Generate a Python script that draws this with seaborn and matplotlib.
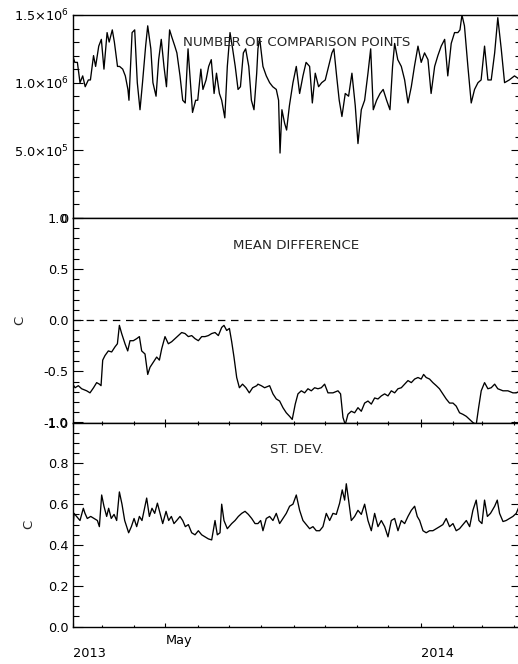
import numpy as np
import pandas as pd
import matplotlib
matplotlib.use("Agg")
import matplotlib.pyplot as plt
import matplotlib.dates as mdates
import seaborn as sns
from matplotlib.ticker import FixedLocator, MultipleLocator, FixedFormatter

# ---------------- data ----------------
start_date = "2013-02-01"
end_day = 429.8  # days after start where the x axis ends

# number of comparison points (millions), day offsets from start_date
npts_days = [0, 2, 4.5, 7, 9.6, 12, 15, 17, 20, 22, 25, 27.5, 30, 33, 35, 38, 40, 43, 45, 48,
             50.5, 53, 54, 57, 59.5, 62, 64.6, 67, 70, 72, 75, 77, 80, 82.5, 85, 87.6, 90, 93,
             95, 98, 100, 103, 105.6, 108, 110.7, 113, 115, 118, 120, 123, 125, 128, 130.5,
             133, 135.7, 138, 140.8, 143, 146, 148.4, 151, 153.5, 156, 158.7, 161, 163.8, 166,
             169, 171.5, 174, 176.6, 177.8, 179.4, 182.6, 185.8, 189, 192, 195.4, 197.6, 199,
             200.8, 203.4, 205.3, 208, 211.4, 214.6, 217.8, 221, 224, 227.4, 230, 232.8, 236,
             239, 242.4, 245.6, 248.8, 250.7, 253.3, 255.8, 258.4, 261.6, 264.8, 268, 271.2,
             273.8, 277, 280.2, 283.4, 286, 288.5, 291.7, 295, 298, 301.3, 304.5, 307, 309,
             312, 315.4, 318.6, 321.8, 325, 328, 331.4, 334.5, 337.7, 341, 344, 347.4, 350.5,
             353.7, 357, 360, 363.3, 366.5, 369.7, 371.7, 373.6, 376, 379.3, 382.5, 385.7,
             389, 392, 395.3, 398.5, 401.7, 405, 408, 411.3, 414.5, 419, 424, 429.8]
npts_millions = [1.20, 1.15, 1.15, 1.00, 1.05, 0.97, 1.02, 1.02, 1.20, 1.12, 1.27, 1.32, 1.10,
                 1.37, 1.30, 1.39, 1.30, 1.12, 1.12, 1.10, 1.05, 0.95, 0.87, 1.37, 1.39, 1.00,
                 0.80, 1.00, 1.27, 1.42, 1.25, 1.00, 0.90, 1.17, 1.32, 1.12, 0.97, 1.39, 1.34,
                 1.27, 1.22, 1.05, 0.87, 0.85, 1.25, 1.00, 0.78, 0.87, 0.87, 1.10, 0.95, 1.02,
                 1.12, 1.17, 0.92, 1.07, 0.92, 0.87, 0.74, 1.12, 1.37, 1.25, 1.12, 0.95, 0.97,
                 1.22, 1.25, 1.12, 0.87, 0.80, 1.07, 1.25, 1.33, 1.12, 1.05, 1.00, 0.97, 0.95,
                 0.87, 0.48, 0.80, 0.70, 0.65, 0.83, 1.00, 1.12, 0.92, 1.05, 1.15, 1.12, 0.85,
                 1.07, 0.97, 1.00, 1.02, 1.12, 1.22, 1.25, 1.05, 0.87, 0.75, 0.92, 0.90, 1.07,
                 0.83, 0.55, 0.80, 0.87, 1.07, 1.25, 0.80, 0.87, 0.92, 0.95, 0.87, 0.80, 1.12,
                 1.29, 1.17, 1.12, 1.02, 0.85, 0.97, 1.12, 1.27, 1.15, 1.22, 1.17, 0.92, 1.12,
                 1.20, 1.27, 1.32, 1.05, 1.29, 1.37, 1.37, 1.39, 1.50, 1.42, 1.12, 0.85, 0.95,
                 1.00, 1.02, 1.27, 1.02, 1.02, 1.22, 1.48, 1.25, 1.00, 1.02, 1.05, 1.02]

# mean difference (C)
mean_days = [0, 2.3, 5.4, 8.6, 13.4, 16.6, 20, 23, 25.6, 27.2, 28.8, 31, 34.2, 37.4, 40.6,
             42.9, 44.8, 47, 50.2, 52.8, 55, 58.2, 61.4, 64, 66.2, 69.4, 72, 74.2, 77.4, 80.6,
             83.2, 85.4, 88.6, 91.8, 95, 98.2, 101.4, 104.6, 107.8, 111, 114.2, 117.4, 120.6,
             123.8, 127, 130.2, 133.4, 136.6, 139.8, 143, 145.2, 147.8, 150.4, 152.6, 154.8,
             157.4, 160, 163, 166.3, 169.5, 172.7, 176.6, 177.8, 181, 184.2, 189, 192.2,
             195.4, 198.6, 201.8, 205, 208.2, 210.7, 213.6, 216.2, 219.4, 222.6, 225.8, 229,
             232.2, 235.4, 238.6, 241.8, 245, 249.8, 254.6, 257.1, 259.4, 261.6, 264.2, 267.4,
             270.6, 273.8, 277, 280.2, 283.4, 286.6, 289.8, 293, 296.2, 299.4, 302.6, 305.8,
             309, 312.2, 315.4, 318.6, 321.8, 325, 328.2, 331.4, 334.5, 336.8, 339.3, 342.5,
             345.7, 349, 352, 355.3, 358.5, 361.7, 365, 368.1, 371.3, 374.5, 377.8, 381,
             384.1, 387.3, 389.6, 392.1, 395.3, 398.5, 401.7, 405, 408, 413, 417.7, 422.5,
             425.7, 429.8]
mean_diff = [-0.625, -0.66, -0.64, -0.67, -0.69, -0.71, -0.66, -0.61, -0.625, -0.64, -0.39,
             -0.345, -0.30, -0.31, -0.26, -0.23, -0.05, -0.13, -0.23, -0.30, -0.20, -0.20,
             -0.18, -0.16, -0.30, -0.33, -0.53, -0.46, -0.41, -0.36, -0.39, -0.28, -0.16,
             -0.23, -0.21, -0.18, -0.15, -0.12, -0.13, -0.16, -0.15, -0.18, -0.20, -0.16,
             -0.16, -0.15, -0.13, -0.12, -0.15, -0.07, -0.05, -0.10, -0.08, -0.21, -0.36,
             -0.56, -0.66, -0.625, -0.66, -0.71, -0.66, -0.64, -0.625, -0.64, -0.66, -0.64,
             -0.72, -0.77, -0.79, -0.855, -0.905, -0.94, -0.97, -0.82, -0.72, -0.69, -0.71,
             -0.67, -0.69, -0.66, -0.67, -0.66, -0.625, -0.71, -0.71, -0.69, -0.72, -0.95,
             -1.02, -0.92, -0.89, -0.905, -0.855, -0.89, -0.81, -0.79, -0.82, -0.76, -0.77,
             -0.74, -0.72, -0.74, -0.69, -0.71, -0.67, -0.66, -0.625, -0.59, -0.61, -0.575,
             -0.56, -0.575, -0.53, -0.56, -0.575, -0.61, -0.64, -0.67, -0.72, -0.77, -0.81,
             -0.81, -0.84, -0.905, -0.92, -0.94, -0.97, -1.0, -1.02, -0.855, -0.69, -0.61,
             -0.67, -0.66, -0.625, -0.67, -0.69, -0.69, -0.71, -0.71, -0.69]

# standard deviation (C)
std_days = [0, 1.3, 3.8, 7, 10.2, 11.8, 14, 17.3, 20.5, 23.7, 25.6, 27.8, 30, 32.6, 34.5, 37,
            39.7, 42.2, 44.8, 47.3, 49.9, 51.8, 53.7, 56.3, 58.9, 61.4, 64, 66.5, 68.5, 71,
            73.6, 76.1, 78.7, 81.3, 83.8, 86.4, 89.6, 92.1, 94.7, 97.2, 99.8, 103, 105.6,
            108.1, 111, 114.2, 117.4, 120.6, 123.8, 127, 130.2, 133.4, 136.6, 138.8, 141.4,
            143, 145.2, 148.4, 152.6, 155.8, 159, 162.2, 165.4, 168.6, 171.8, 175, 177.8,
            180.4, 182.6, 185.8, 189, 192.2, 195.4, 198.6, 201.8, 205, 208.2, 211.4, 214.6,
            217.8, 221, 224.2, 227.4, 230.6, 233.8, 237, 240.2, 243.4, 246.6, 249.8, 253,
            256.2, 258.7, 261, 262.6, 264.8, 267.4, 270.6, 273.8, 277, 280.2, 283.4, 286.6,
            289.8, 293, 296.2, 299.4, 302.6, 305.8, 309, 312.2, 315.4, 318.6, 321.8, 325,
            328.2, 330.7, 333, 336.2, 339.3, 342.5, 345.7, 349, 352.2, 355.3, 358.5, 361.7,
            365, 368.1, 371.3, 374.5, 377.8, 381, 384.1, 387.3, 389.9, 392.8, 395.3, 398,
            401, 405, 407.5, 409.7, 413, 416, 419.3, 422.5, 425.7, 429.8]
std_dev = [0.47, 0.555, 0.54, 0.52, 0.58, 0.555, 0.53, 0.54, 0.53, 0.52, 0.49, 0.645, 0.59,
           0.54, 0.58, 0.53, 0.55, 0.52, 0.66, 0.60, 0.52, 0.49, 0.46, 0.49, 0.53, 0.49, 0.54,
           0.52, 0.57, 0.63, 0.54, 0.58, 0.555, 0.605, 0.555, 0.505, 0.565, 0.52, 0.54, 0.505,
           0.52, 0.54, 0.52, 0.49, 0.50, 0.46, 0.45, 0.47, 0.45, 0.44, 0.43, 0.425, 0.52, 0.45,
           0.46, 0.60, 0.52, 0.48, 0.505, 0.52, 0.54, 0.555, 0.565, 0.55, 0.53, 0.505, 0.505,
           0.52, 0.47, 0.53, 0.54, 0.52, 0.555, 0.505, 0.53, 0.555, 0.59, 0.60, 0.645, 0.57,
           0.52, 0.50, 0.48, 0.49, 0.47, 0.47, 0.49, 0.555, 0.52, 0.555, 0.55, 0.605, 0.67,
           0.62, 0.70, 0.62, 0.52, 0.54, 0.57, 0.55, 0.60, 0.52, 0.47, 0.555, 0.49, 0.52,
           0.49, 0.44, 0.52, 0.53, 0.47, 0.52, 0.505, 0.54, 0.57, 0.59, 0.54, 0.52, 0.47,
           0.46, 0.47, 0.47, 0.48, 0.49, 0.50, 0.53, 0.49, 0.505, 0.47, 0.48, 0.50, 0.52,
           0.49, 0.57, 0.62, 0.52, 0.505, 0.62, 0.54, 0.555, 0.59, 0.62, 0.555, 0.515, 0.52,
           0.53, 0.54, 0.555, 0.605]

panel_titles = ["NUMBER OF COMPARISON POINTS", "MEAN DIFFERENCE", "ST. DEV."]
npts_ticks = [0, 5.0e5, 1.0e6, 1.5e6]
npts_ticklabels = ["0", r"$5.0{\times}10^{5}$", r"$1.0{\times}10^{6}$", r"$1.5{\times}10^{6}$"]
x_label_dates = ["2013-02-01", "2013-05-01", "2014-01-01"]
x_label_texts = ["\n2013", "May", "\n2014"]

# ---------------- styling ----------------
sns.set_style("ticks")
plt.rcParams["font.family"] = ["DejaVu Sans"]
plt.rcParams["mathtext.default"] = "regular"
plt.rcParams["font.size"] = 9

W, H = 518, 664
fig = plt.figure(figsize=(W / 100, H / 100), dpi=100)
fig.patch.set_facecolor("white")

left = 72.7 / W
right_px = 520.5
width = (right_px - 72.7) / W
bounds_px = [(15.0, 218.0), (218.0, 422.5), (422.5, 626.7)]
axes = []
for top_px, bot_px in bounds_px:
    ax = fig.add_axes([left, 1 - bot_px / H, width, (bot_px - top_px) / H])
    axes.append(ax)

base = pd.Timestamp(start_date)
def to_dates(days):
    return base + pd.to_timedelta(np.asarray(days, dtype=float), unit="D")

x0 = mdates.date2num(base)
x1 = mdates.date2num(base + pd.Timedelta(days=end_day))

series = [
    (npts_days, np.asarray(npts_millions) * 1e6),
    (mean_days, np.asarray(mean_diff)),
    (std_days, np.asarray(std_dev)),
]
tick_fs = 9.3
for ax, (d, v) in zip(axes, series):
    df = pd.DataFrame({"date": to_dates(d), "value": v})
    sns.lineplot(data=df, x="date", y="value", ax=ax, color="black", linewidth=0.95,
                 estimator=None, sort=False)
    ax.set_xlim(x0, x1)
    ax.set_xlabel("")
    ax.set_ylabel("")
    for s in ["left", "top", "bottom"]:
        ax.spines[s].set_visible(True)
        ax.spines[s].set_linewidth(1.0)
        ax.spines[s].set_color("black")
    ax.spines["right"].set_visible(False)
    ax.tick_params(axis="y", which="both", direction="in", left=True, right=True,
                   labelleft=True, labelright=False, width=0.8, colors="black",
                   labelsize=tick_fs, pad=3)
    ax.tick_params(axis="y", which="major", length=7.2)
    ax.tick_params(axis="y", which="minor", length=4.0)

# panel 1
ax1, ax2, ax3 = axes
ax1.set_ylim(0, 1.5e6)
ax1.yaxis.set_major_locator(FixedLocator(npts_ticks))
ax1.yaxis.set_major_formatter(FixedFormatter(npts_ticklabels))
ax1.yaxis.set_minor_locator(MultipleLocator(1e5))
ax1.tick_params(axis="x", which="both", bottom=False, top=False, labelbottom=False)

# panel 2
ax2.set_ylim(-1, 1)
ax2.yaxis.set_major_locator(MultipleLocator(0.5))
ax2.yaxis.set_minor_locator(MultipleLocator(0.1))
ax2.yaxis.set_major_formatter(matplotlib.ticker.FormatStrFormatter("%.1f"))
ax2.axhline(0, color="black", linewidth=0.9, dashes=(6, 4.5))
ax2.set_ylabel("C", fontsize=9.5, labelpad=12)

# panel 3
ax3.set_ylim(0, 1)
ax3.yaxis.set_major_locator(MultipleLocator(0.2))
ax3.yaxis.set_minor_locator(MultipleLocator(0.05))
ax3.yaxis.set_major_formatter(matplotlib.ticker.FormatStrFormatter("%.1f"))
ax3.set_ylabel("C", fontsize=9.5, labelpad=9)

month_starts = mdates.date2num(pd.date_range("2013-02-01", "2014-04-01", freq="MS"))
major_x = mdates.date2num(pd.to_datetime(x_label_dates))
for ax in (ax2, ax3):
    ax.xaxis.set_major_locator(FixedLocator(major_x))
    ax.xaxis.set_minor_locator(FixedLocator(month_starts))
    ax.tick_params(axis="x", which="both", direction="in", width=0.8, colors="black")
    ax.tick_params(axis="x", which="major", length=3.0)
    ax.tick_params(axis="x", which="minor", length=1.4)

ax2.tick_params(axis="x", which="both", bottom=True, top=False, labelbottom=False)
ax3.tick_params(axis="x", which="both", bottom=True, top=True, labelbottom=True,
                labelsize=tick_fs, pad=5)
ax3.xaxis.set_major_formatter(FixedFormatter(x_label_texts))
for lab in ax3.get_xticklabels():
    lab.set_horizontalalignment("left")
    lab.set_linespacing(1.05)

for ax, title in zip(axes, panel_titles):
    ax.annotate(title, xy=(0.5, 1.0), xycoords="axes fraction", xytext=(0, -27 * 0.72),
                textcoords="offset points", ha="center", va="center", fontsize=9.6)

fig.savefig("out.png", dpi=100, facecolor="white")
